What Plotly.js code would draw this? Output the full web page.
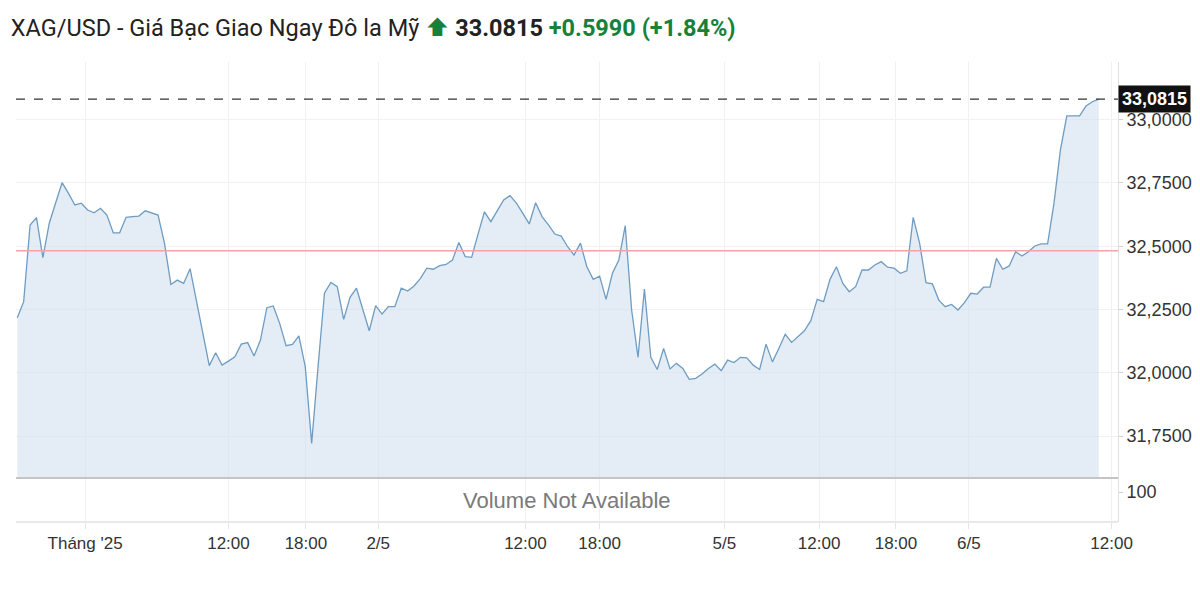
<!DOCTYPE html>
<html><head><meta charset="utf-8">
<script src="https://cdn.plot.ly/plotly-3.0.1.min.js"></script>
<style>html,body{margin:0;padding:0;background:#fff;}#chart{width:1200px;height:591px;}</style>
</head><body><div id="chart"></div>
<script>
const prices = [
32.217,32.281,32.584,32.613,32.455,32.591,32.672,32.751,32.709,32.663,
32.670,32.643,32.632,32.650,32.623,32.553,32.553,32.614,32.617,32.619,
32.640,32.632,32.623,32.512,32.349,32.366,32.353,32.411,32.287,32.157,
32.028,32.079,32.030,32.046,32.063,32.113,32.119,32.066,32.129,32.257,
32.264,32.195,32.107,32.112,32.146,32.024,31.721,32.024,32.314,32.357,
32.340,32.211,32.298,32.334,32.248,32.166,32.265,32.232,32.261,32.261,
32.334,32.323,32.343,32.373,32.413,32.409,32.423,32.428,32.445,32.515,
32.459,32.456,32.548,32.636,32.597,32.640,32.683,32.700,32.670,32.630,
32.588,32.672,32.617,32.584,32.548,32.540,32.498,32.465,32.512,32.419,
32.369,32.382,32.290,32.393,32.445,32.581,32.248,32.061,32.331,32.061,
32.013,32.096,32.015,32.037,32.017,31.974,31.978,31.995,32.017,32.034,
32.008,32.050,32.040,32.061,32.059,32.030,32.013,32.113,32.043,32.096,
32.152,32.120,32.145,32.166,32.206,32.290,32.281,32.369,32.419,32.353,
32.320,32.340,32.406,32.406,32.426,32.439,32.417,32.413,32.393,32.403,
32.614,32.512,32.356,32.351,32.287,32.261,32.270,32.248,32.277,32.314,
32.311,32.338,32.338,32.452,32.409,32.422,32.478,32.461,32.478,32.501,
32.509,32.509,32.670,32.880,33.015,33.015,33.015,33.054,33.071,33.0815
];
const tickPositions = [10.6, 33, 45.1, 56.4, 79.4, 91, 110.5, 125.3, 137.3, 148.7, 171];
const tickLabels = ["Tháng '25","12:00","18:00","2/5","12:00","18:00","5/5","12:00","18:00","6/5","12:00"];
const priceTicks = [31.75, 32, 32.25, 32.5, 32.75, 33];
const volumeTicks = [100];
const previousClose = 32.4825;
const lastPrice = 33.0815;
const change = 0.5990;
const changePct = 1.84;
const symbolName = "XAG/USD - Giá Bạc Giao Ngay Đô la Mỹ";

const idx = prices.map((_, i) => i);
const green = '#17813a';
const titleText = symbolName +
  ' <span style="color:' + green + '">⬆</span> <b>' + lastPrice.toFixed(4) + '</b> ' +
  '<span style="color:' + green + '"><b>+' + change.toFixed(4) + ' (+' + changePct.toFixed(2) + '%)</b></span>';

const priceDomainBottom = 44 / 460;

const data = [
  {
    x: idx, y: prices, type: 'scatter', mode: 'lines',
    line: {color: '#6f9cc2', width: 1.3},
    fill: 'tozeroy', fillcolor: 'rgba(205,222,236,0.55)',
    xaxis: 'x', yaxis: 'y', hoverinfo: 'skip', showlegend: false
  },
  {x: [], y: [], type: 'scatter', mode: 'lines', xaxis: 'x', yaxis: 'y2', showlegend: false}
];

const layout = {
  width: 1200, height: 591,
  margin: {l: 16, r: 82, t: 62, b: 69},
  paper_bgcolor: '#fff', plot_bgcolor: '#fff',
  separators: ',.',
  font: {family: 'Liberation Sans, Arial, sans-serif', color: '#333'},
  title: {
    text: titleText, xref: 'container', yref: 'container',
    x: 0.009, xanchor: 'left', y: 0.953, yanchor: 'middle',
    font: {family: 'Roboto, Inter, sans-serif', size: 23.5, color: '#222'}
  },
  showlegend: false,
  xaxis: {
    anchor: 'y2', domain: [0, 1], range: [-0.2, 172],
    tickmode: 'array', tickvals: tickPositions, ticktext: tickLabels,
    showgrid: true, gridcolor: '#f1f1f1', gridwidth: 1,
    ticks: 'outside', ticklen: 6, tickcolor: '#e4e4e4',
    tickfont: {size: 17, color: '#333'},
    zeroline: false, showline: false, fixedrange: true
  },
  yaxis: {
    anchor: 'x', domain: [priceDomainBottom, 1], side: 'right',
    range: [31.584, 33.228],
    tickmode: 'array', tickvals: priceTicks, tickformat: '.4f',
    showgrid: true, gridcolor: '#f1f1f1',
    ticks: 'outside', ticklen: 4, tickcolor: '#d0d0d0',
    tickfont: {size: 18, color: '#333'},
    showline: true, linecolor: '#e0e0e0', zeroline: false
  },
  yaxis2: {
    anchor: 'x', domain: [0, priceDomainBottom], side: 'right',
    range: [0, 147],
    tickmode: 'array', tickvals: volumeTicks, ticktext: volumeTicks.map(String),
    showgrid: false, ticks: 'outside', ticklen: 4, tickcolor: '#d0d0d0',
    tickfont: {size: 18, color: '#333'},
    showline: true, linecolor: '#e0e0e0', zeroline: false
  },
  shapes: [
    {type: 'line', xref: 'x domain', yref: 'y', x0: 0, x1: 1, y0: previousClose, y1: previousClose,
     line: {color: '#f3a3a3', width: 1.5}},
    {type: 'line', xref: 'x domain', yref: 'y', x0: 0, x1: 1, y0: lastPrice, y1: lastPrice,
     line: {color: '#333', width: 1.2, dash: 'dash'}},
    {type: 'line', xref: 'paper', yref: 'paper', x0: 0, x1: 1, y0: priceDomainBottom, y1: priceDomainBottom,
     line: {color: '#c4c4c4', width: 2}},
    {type: 'line', xref: 'paper', yref: 'paper', x0: 0, x1: 1, y0: 0, y1: 0,
     line: {color: '#e2e2e2', width: 1.5}}
  ],
  annotations: [
    {text: 'Volume Not Available', xref: 'paper', yref: 'y2 domain', x: 0.5, y: 0.5,
     xanchor: 'center', yanchor: 'middle', showarrow: false,
     font: {size: 22, color: '#7a7a7a', family: 'Liberation Sans, Arial, sans-serif'}},
    {text: '<b>' + lastPrice.toFixed(4).replace('.', ',') + '</b>', xref: 'paper', yref: 'y', x: 1, y: lastPrice,
     xanchor: 'left', yanchor: 'middle', showarrow: false, bgcolor: '#111',
     borderpad: 3, font: {size: 18, color: '#fff', family: 'Liberation Sans, Arial, sans-serif'}}
  ]
};

Plotly.newPlot('chart', data, layout, {displayModeBar: false, staticPlot: true});
</script>
</body></html>
